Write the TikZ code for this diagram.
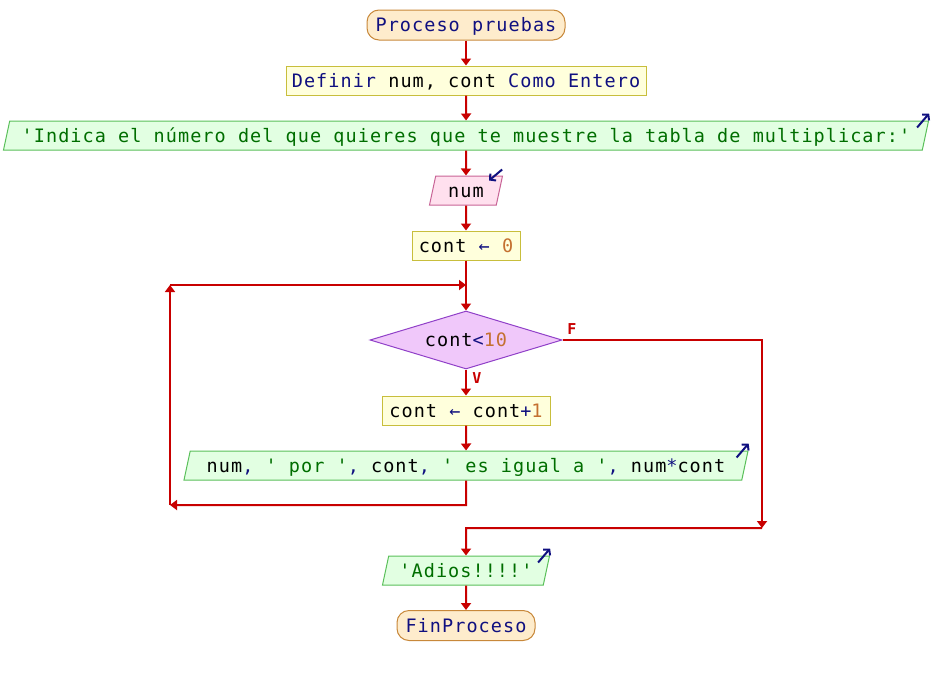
\documentclass[tikz,border=0pt]{standalone}
\usepackage{fontspec}
\usetikzlibrary{shapes.geometric,arrows.meta}
\newfontfamily\pmono[LetterSpace=5.7]{DejaVu Sans Mono}
\newfontfamily\plabel{DejaVu Sans Mono}
\definecolor{pkw}{RGB}{16,16,128}
\definecolor{pstr}{RGB}{0,110,0}
\definecolor{pnum}{RGB}{196,112,48}
\definecolor{pred}{RGB}{200,0,0}
\definecolor{termf}{RGB}{254,236,204}
\definecolor{termb}{RGB}{200,136,58}
\definecolor{procf}{RGB}{255,255,220}
\definecolor{procb}{RGB}{200,190,60}
\definecolor{outf}{RGB}{226,255,226}
\definecolor{outb}{RGB}{90,192,90}
\definecolor{inf}{RGB}{255,224,238}
\definecolor{inb}{RGB}{200,100,150}
\definecolor{condf}{RGB}{240,200,250}
\definecolor{condb}{RGB}{144,64,200}
\newcommand{\kwc}[1]{\textcolor{pkw}{#1}}
\newcommand{\strc}[1]{\textcolor{pstr}{#1}}
\newcommand{\numc}[1]{\textcolor{pnum}{#1}}
\tikzset{
  flow/.style={line width=2pt, draw=pred, -{Triangle[length=7pt,width=10pt]}},
  txt/.style={text height=14pt, text depth=1pt},
  term/.style={txt, draw=termb, fill=termf, rounded corners=12pt, minimum height=30pt, inner sep=0pt, line width=1pt, text=pkw},
  proc/.style={txt, draw=procb, fill=procf, minimum height=29pt, inner sep=0pt, line width=1pt},
  outp/.style={txt, trapezium, trapezium left angle=67.5, trapezium right angle=112.5, trapezium stretches body, draw=outb, fill=outf, minimum height=29pt, inner sep=0pt, line width=1pt},
  inp/.style={txt, trapezium, trapezium left angle=67.5, trapezium right angle=112.5, trapezium stretches body, draw=inb, fill=inf, minimum height=29pt, inner sep=0pt, line width=1pt},
  cond/.style={txt, diamond, aspect=3.3, draw=condb, fill=condf, minimum width=192pt, minimum height=58pt, inner sep=0pt, line width=1pt},
  iotag/.style={draw=pkw, line width=2pt, -{Straight Barb[length=4pt,width=9pt]}},
  brlabel/.style={text=pred, font=\plabel\bfseries\fontsize{15}{16}\selectfont}
}
\begin{document}
\begin{tikzpicture}[x=1pt,y=-1pt, font=\pmono\fontsize{18.5}{20}\selectfont]
\useasboundingbox (0,0) rectangle (932,675);
\node[term, minimum width=198pt] (start) at (466,25) {Proceso pruebas};
\node[proc, minimum width=360pt] (def) at (466,80.5) {\kwc{Definir} num, cont \kwc{Como Entero}};
\node[outp, minimum width=925pt] (o1) at (466,135.5) {\strc{'Indica el número del que quieres que te muestre la tabla de multiplicar:'}};
\node[inp, minimum width=73pt] (in1) at (466,190.5) {num};
\node[proc, minimum width=108pt] (a1) at (466,245.5) {cont \kwc{←} \numc{0}};
\node[cond] (dia) at (466,340) {cont\kwc{<}\numc{10}};
\node[proc, minimum width=168pt] (a2) at (466,410.5) {cont \kwc{←} cont\kwc{+}\numc{1}};
\node[outp, minimum width=564pt] (o2) at (466,465.5) {num\kwc{,} \strc{' por '}\kwc{,} cont\kwc{,} \strc{' es igual a '}\kwc{,} num\kwc{*}cont};
\node[outp, minimum width=167pt] (o3) at (466,570.5) {\strc{'Adios!!!!'}};
\node[term, minimum width=138pt] (fin) at (466,625.5) {FinProceso};
\node[brlabel] (lf) at (572,329) {F};
\node[brlabel] (lv) at (477,378) {V};
\coordinate (j1) at (466,285);
\coordinate (lt) at (170,285);
\coordinate (lb) at (170,505);
\coordinate (ob) at (466,505);
\coordinate (rt) at (762,340);
\coordinate (rb) at (762,528);
\coordinate (j2) at (466,528);
% flow
\draw[flow] (start.south) -- (def.north);
\draw[flow] (def.south) -- (o1.north);
\draw[flow] (o1.south) -- (in1.north);
\draw[flow] (in1.south) -- (a1.north);
\draw[flow] (a1.south) -- (dia.north);
\draw[flow] (dia.south) -- (a2.north);
\draw[flow] (a2.south) -- (o2.north);
\draw[flow] (o2.south) -- (ob) -- (lb);
\draw[flow] (lb) -- (lt);
\draw[flow] (lt) -- (j1);
\draw[flow] (dia.east) -- (rt) -- (rb);
\draw[flow] (rb) -- (j2) -- (o3.north);
\draw[flow] (o3.south) -- (fin.north);
% io tags
\draw[iotag] ([shift={(-12,7)}]o1.top right corner) -- ([shift={(0,-7)}]o1.top right corner);
\draw[iotag] ([shift={(-1,-6)}]in1.top right corner) -- ([shift={(-14,5)}]in1.top right corner);
\draw[iotag] ([shift={(-12,7)}]o2.top right corner) -- ([shift={(0,-7)}]o2.top right corner);
\draw[iotag] ([shift={(-12,7)}]o3.top right corner) -- ([shift={(0,-7)}]o3.top right corner);
\end{tikzpicture}
\end{document}
